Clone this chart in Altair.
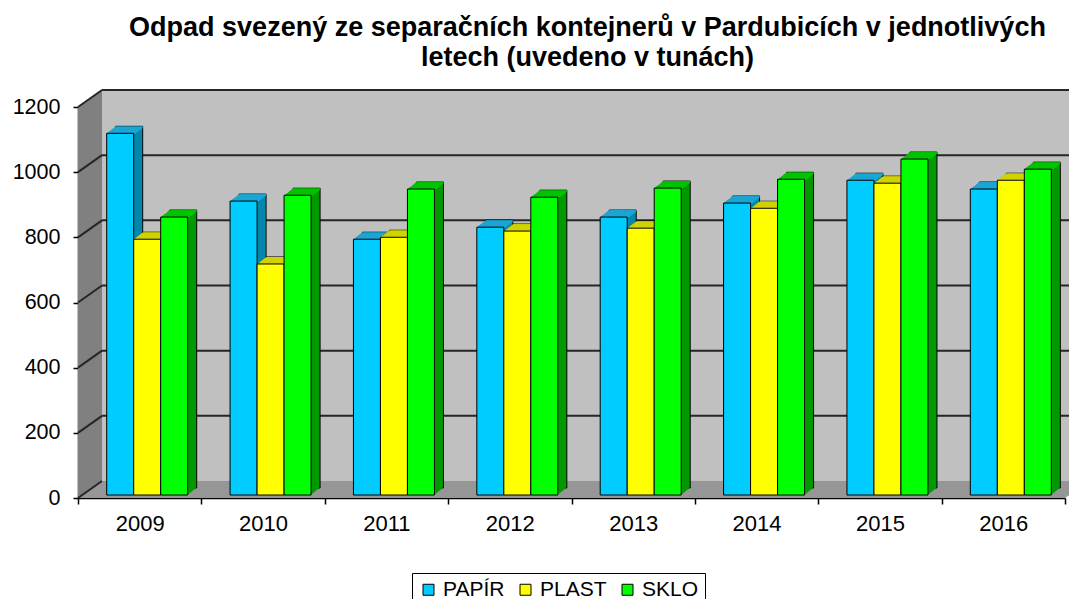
import altair as alt
import pandas as pd

# ---- data ----
years = ["2009", "2010", "2011", "2012", "2013", "2014", "2015", "2016"]
series = ["PAPÍR", "PLAST", "SKLO"]
papir = [1110, 902, 785, 822, 853, 896, 966, 939]
plast = [785, 709, 791, 810, 819, 880, 957, 966]
sklo = [853, 920, 939, 914, 942, 969, 1031, 1000]
y_ticks = [0, 200, 400, 600, 800, 1000, 1200]
title_lines = ["Odpad svezený ze separačních kontejnerů v Pardubicích v jednotlivých",
               "letech (uvedeno v tunách)"]

# ---- styles ----
front_colors = ["#00CCFF", "#FFFF00", "#00FF00"]
top_colors = ["#1BA6D4", "#D2D200", "#00C400"]
side_colors = ["#0088AD", "#A8A800", "#009A00"]
FONT = "Liberation Sans"

df = pd.DataFrame({
    "rok": years * 3,
    "druh": [s for s in series for _ in years],
    "t": papir + plast + sklo,
})

W, H = 987, 391
YMAX = 1200
WALL_DX, WALL_DY = 24, 17
du = WALL_DY * YMAX / H
BAR_W = 27
BAR_SHIFT = 7.5
BAR_LIFT = 3
DEPTH_X, DEPTH_Y, STEPS = 9, 7, 9

x_enc = alt.X("rok:N", scale=alt.Scale(domain=years, paddingInner=0, paddingOuter=0),
              axis=alt.Axis(title=None, labelAngle=0, tickBand="extent", labelFont=FONT,
                            labelFontSize=22, labelColor="black", labelPadding=9,
                            tickSize=6, tickColor="black", tickWidth=1.5,
                            domainColor="black", domainWidth=1.5))
y_scale = alt.Scale(domain=[0, YMAX], nice=False, zero=True)
y_axis = alt.Axis(title=None, values=y_ticks, format="d", grid=False, labelFont=FONT,
                  labelFontSize=21.5, labelColor="black", labelPadding=13,
                  tickSize=5, tickColor="black", tickWidth=1.5,
                  domainColor="black", domainWidth=1.5)
y_enc = alt.Y("t:Q", scale=y_scale, axis=y_axis)

layers = []

# back wall
wall_df = pd.DataFrame({"top": [YMAX], "bot": [0]})
layers.append(alt.Chart(wall_df).mark_rect(color="#C0C0C0", yOffset=-WALL_DY, y2Offset=-WALL_DY).encode(
    x=alt.value(WALL_DX), x2=alt.value(W + WALL_DX),
    y=alt.Y("top:Q", scale=y_scale, axis=y_axis), y2="bot:Q"))

# side wall
side_df = pd.DataFrame({"px": [0, WALL_DX], "top": [YMAX, YMAX + du], "bot": [0, du]})
layers.append(alt.Chart(side_df).mark_area(color="#808080").encode(
    x=alt.X("px:Q", scale=None, axis=None),
    y=alt.Y("top:Q", scale=y_scale, axis=y_axis), y2="bot:Q"))

# floor
floor_df = pd.DataFrame({"px": [0, WALL_DX, W, W + WALL_DX],
                         "top": [0, du, du, du], "bot": [0, 0, 0, du]})
layers.append(alt.Chart(floor_df).mark_area(color="#969696").encode(
    x=alt.X("px:Q", scale=None, axis=None),
    y=alt.Y("top:Q", scale=y_scale, axis=y_axis), y2="bot:Q"))

# gridlines on back wall and side wall
grid_df = pd.DataFrame({"v": y_ticks[1:]})
side_grid_df = pd.DataFrame({"v": y_ticks})
layers.append(alt.Chart(grid_df).mark_rule(color="#262626", strokeWidth=2, yOffset=-WALL_DY).encode(
    x=alt.value(WALL_DX), x2=alt.value(W + WALL_DX),
    y=alt.Y("v:Q", scale=y_scale, axis=y_axis)))
layers.append(alt.Chart(side_grid_df).mark_rule(color="#262626", strokeWidth=2, y2Offset=-WALL_DY).encode(
    x=alt.value(0), x2=alt.value(WALL_DX),
    y=alt.Y("v:Q", scale=y_scale, axis=y_axis), y2="v:Q"))

legend = alt.Legend(title=None, orient="none", legendX=334, legendY=466, direction="horizontal",
                    labelFont=FONT, labelFontSize=21, labelColor="black", symbolType="square",
                    symbolSize=121, symbolStrokeColor="black", symbolStrokeWidth=1,
                    strokeColor="black", padding=6, columnPadding=10, labelOffset=4)
color_enc = alt.Color("druh:N", scale=alt.Scale(domain=series, range=front_colors), legend=legend)

for i, s in enumerate(series):
    base = alt.Chart(df).transform_filter(alt.datum.druh == s)
    xo = BAR_SHIFT + (i - 1) * BAR_W
    # side extrusion
    for k in range(STEPS, 0, -1):
        ox = xo + k * DEPTH_X / STEPS
        oy = -BAR_LIFT - k * DEPTH_Y / STEPS
        kw = dict(width=BAR_W, color=side_colors[i], xOffset=ox, yOffset=oy, y2Offset=oy)
        if k == STEPS:
            kw.update(stroke="black", strokeWidth=1)
        layers.append(base.mark_bar(**kw).encode(x=x_enc, y=y_enc))
    # top face
    for k in range(STEPS, 0, -1):
        ox = xo + k * DEPTH_X / STEPS
        oy = -BAR_LIFT - k * DEPTH_Y / STEPS
        layers.append(base.mark_bar(width=BAR_W, color=top_colors[i], xOffset=ox,
                                    yOffset=oy, y2Offset=oy + 2).encode(
            x=x_enc, y=y_enc, y2="t:Q"))
    # front face
    layers.append(base.mark_bar(width=BAR_W, stroke="black", strokeWidth=1, xOffset=xo,
                                yOffset=-BAR_LIFT, y2Offset=-BAR_LIFT).encode(
        x=x_enc, y=y_enc, color=color_enc))

chart = alt.layer(*layers).properties(
    width=W, height=H,
    title=alt.TitleParams(text=title_lines, font=FONT, fontSize=27, fontWeight="bold",
                          color="black", anchor="middle", dx=16, offset=17, lineHeight=30,
                          frame="group"),
    autosize=alt.AutoSizeParams(type="none"),
    padding={"left": 70, "top": 99, "right": 4, "bottom": 101},
).configure_view(stroke=None).configure(background="white")

chart.save("out.html", embed_options={"renderer": "svg", "actions": False})
